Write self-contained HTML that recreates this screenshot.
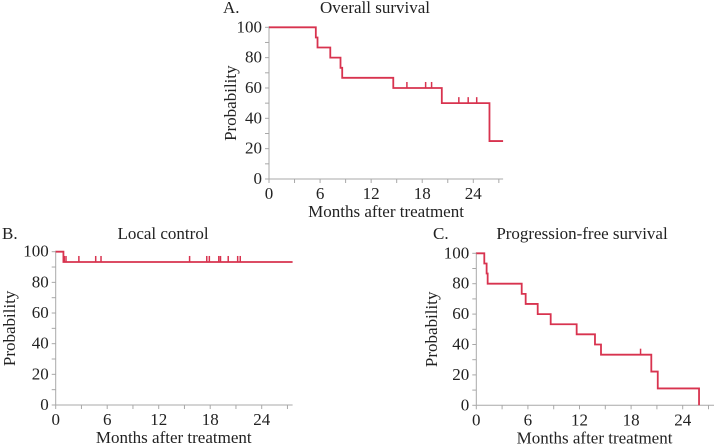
<!DOCTYPE html>
<html><head><meta charset="utf-8">
<style>
html,body{margin:0;padding:0;background:#fff;}
svg{display:block;}
svg text{font-family:"Liberation Serif","Times New Roman",serif;}
</style></head>
<body>
<svg id="fig" width="714" height="447" viewBox="0 0 714 447" xmlns="http://www.w3.org/2000/svg"></svg>
<script>
// Panel A: Overall survival
const osTimes = [0, 5.5, 5.7, 7.2, 8.4, 8.6, 14.6, 20.3, 25.9];
const osValues = [100, 93.3, 86.7, 80, 73.3, 66.7, 60, 50, 25];
const osEnd = 27.5;
const osCensorTimes = [16.2, 18.4, 19.1, 22.3, 23.4, 24.4];
const osCensorValues = [60, 60, 60, 50, 50, 50];
// Panel B: Local control
const lcTimes = [0, 0.9];
const lcValues = [100, 93.3];
const lcEnd = 27.6;
const lcCensorTimes = [1.0, 1.2, 2.7, 4.66, 5.28, 15.6, 17.6, 17.9, 19.0, 19.2, 20.1, 21.2, 21.5];
const lcCensorValues = [93.3, 93.3, 93.3, 93.3, 93.3, 93.3, 93.3, 93.3, 93.3, 93.3, 93.3, 93.3, 93.3];
// Panel C: Progression-free survival
const pfsTimes = [0, 0.93, 1.2, 1.32, 5.28, 5.74, 7.14, 8.65, 11.67, 13.8, 14.5, 20.35, 21.1, 25.9];
const pfsValues = [100, 93.3, 86.7, 80, 73.3, 66.7, 60, 53.3, 46.7, 40, 33.3, 22.2, 11.1, 0];
const pfsEnd = 25.9;
const pfsCensorTimes = [19.1];
const pfsCensorValues = [33.3];
// Shared axes
const xTickLabels = [0, 6, 12, 18, 24];
const yTickLabels = [0, 20, 40, 60, 80, 100];

const NS = "http://www.w3.org/2000/svg";
const FONT = '"Liberation Serif", "Times New Roman", serif';
const fig = document.getElementById('fig');
function mk(tag, attrs, parent, text) {
  const e = document.createElementNS(NS, tag);
  for (const k in attrs) e.setAttribute(k, attrs[k]);
  if (tag === 'text') e.setAttribute('font-family', FONT);
  if (text !== undefined) e.textContent = text;
  (parent || fig).appendChild(e);
  return e;
}
const RED = "#d8334f", AX = "#a8a8a8";

function panel(p, times, values, end, cT, cV) {
  const g = mk('g', {});
  
  
  const sx = m => p.x0 + (m / 24) * p.w24;
  const sy = v => p.y0 - (v / 100) * (p.y0 - p.y100);
  const ax = mk('g', {}, g);
  
  
  mk('line', {x1: p.x0, y1: sy(100) - 1, x2: p.x0, y2: p.y0, stroke: AX, 'stroke-width': 1}, ax);
  mk('line', {x1: p.x0, y1: p.y0, x2: sx(p.xMax), y2: p.y0, stroke: AX, 'stroke-width': 1}, ax);
  for (let m = 0; m <= p.xMax; m += 3) mk('line', {x1: sx(m), y1: p.y0, x2: sx(m), y2: p.y0 + 4, stroke: AX}, ax);
  for (let v = 0; v <= 100; v += 10) mk('line', {x1: p.x0 - 4, y1: sy(v), x2: p.x0, y2: sy(v), stroke: AX}, ax);
  xTickLabels.forEach(m => {
    const t = mk('text', {x: sx(m), y: p.y0 + 20, 'font-size': 17, 'text-anchor': 'middle', fill: '#222'}, ax, m);
    
    
  });
  yTickLabels.forEach(v => {
    const t = mk('text', {x: p.x0 - 7, y: sy(v) + 5, 'font-size': 17, 'text-anchor': 'end', fill: '#222'}, ax, v);
    
    
  });
  const xt = mk('text', {x: p.x0 + 0.5 * p.w24 * 27.5 / 24, y: p.y0 + 38, 'font-size': 17, 'text-anchor': 'middle', fill: '#222'}, g, 'Months after treatment');
  
  
  const cy = (p.y0 + p.y100) / 2;
  const yt = mk('text', {x: p.ytx, y: cy, 'font-size': 17, 'text-anchor': 'middle', fill: '#222', transform: `rotate(-90 ${p.ytx} ${cy})`}, g, 'Probability');
  
  
  const tt = mk('text', {x: p.tx, y: p.ty, 'font-size': 17, 'text-anchor': 'middle', fill: '#222'}, g, p.title);
  
  
  const lt = mk('text', {x: p.lx, y: p.ty, 'font-size': 17, fill: '#222'}, g, p.letter);
  
  
  let d = `M${sx(times[0])},${sy(values[0])}`;
  for (let i = 1; i < times.length; i++) d += ` H${sx(times[i])} V${sy(values[i])}`;
  d += ` H${sx(end)}`;
  const path = mk('path', {d: d, fill: 'none', stroke: RED, 'stroke-width': 1.8}, g);
  
  
  cT.forEach((t, i) => {
    const c = mk('line', {x1: sx(t), y1: sy(cV[i]), x2: sx(t), y2: sy(cV[i]) - 6, stroke: RED, 'stroke-width': 1.5}, g);
    
    
  });
}

panel({id: 'overall-survival', x0: 269, y0: 179, y100: 27.3, w24: 204.3, xMax: 27.5, ytx: 236, tx: 375, ty: 13, lx: 223, title: 'Overall survival', letter: 'A.'},
  osTimes, osValues, osEnd, osCensorTimes, osCensorValues);
panel({id: 'local-control', x0: 55.7, y0: 405, y100: 251.7, w24: 206, xMax: 27.6, ytx: 15, tx: 163, ty: 239, lx: 2, title: 'Local control', letter: 'B.'},
  lcTimes, lcValues, lcEnd, lcCensorTimes, lcCensorValues);
panel({id: 'progression-free-survival', x0: 476.3, y0: 405.3, y100: 253.3, w24: 206.4, xMax: 28, ytx: 437, tx: 582, ty: 239, lx: 433, title: 'Progression-free survival', letter: 'C.'},
  pfsTimes, pfsValues, pfsEnd, pfsCensorTimes, pfsCensorValues);
</script>
</body></html>
